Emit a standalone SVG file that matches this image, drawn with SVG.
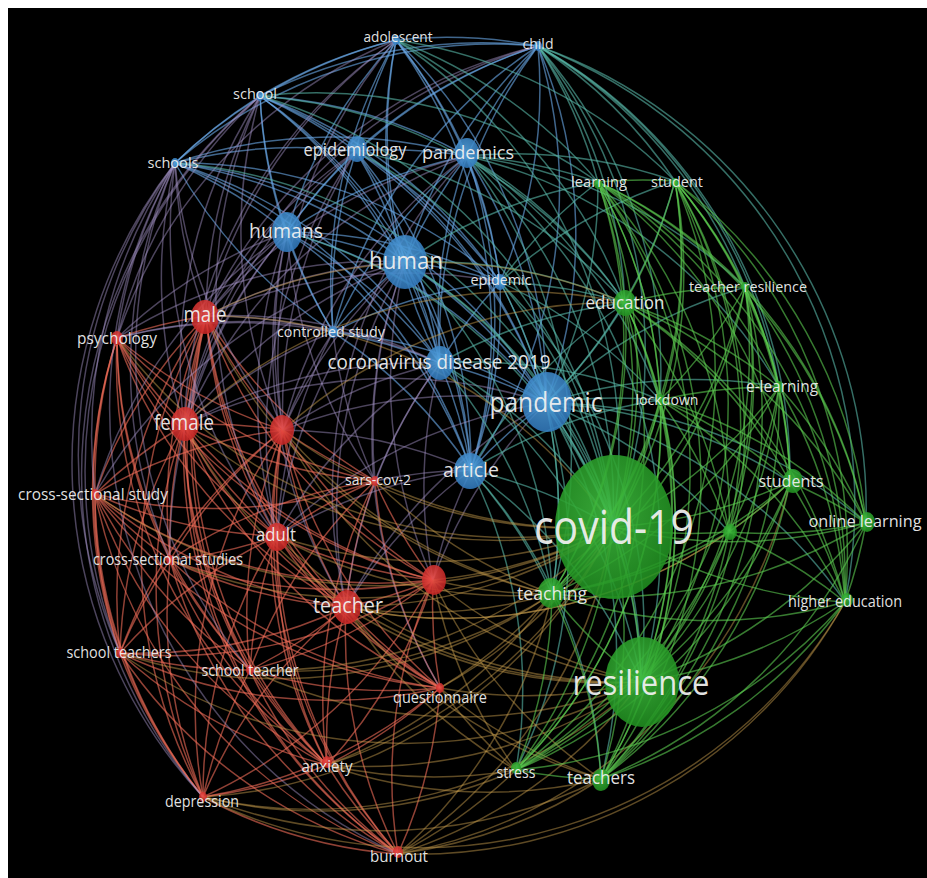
<svg xmlns="http://www.w3.org/2000/svg" width="927" height="878" viewBox="0 0 927 878">
<defs>
<radialGradient id="gR" cx="0.45" cy="0.4" r="0.65"><stop offset="0" stop-color="#ec4c46"/><stop offset="1" stop-color="#bf2020"/></radialGradient>
<radialGradient id="gB" cx="0.45" cy="0.4" r="0.65"><stop offset="0" stop-color="#52a2de"/><stop offset="1" stop-color="#2f76ba"/></radialGradient>
<radialGradient id="gG" cx="0.45" cy="0.4" r="0.65"><stop offset="0" stop-color="#40be40"/><stop offset="1" stop-color="#1e8c1e"/></radialGradient>
<style>
#edges path{fill:none;stroke-width:1.5;stroke-opacity:0.6}
.eb{stroke:#6aaaea}.er{stroke:#f06c58}.eg{stroke:#5ccc50}.et{stroke:#58b8a8}
#edges .ep path{stroke:#a896cc;stroke-opacity:0.45}
#edges .ey path{stroke:#c49a4c;stroke-opacity:0.48}
.nr{fill:url(#gR)}.nb{fill:url(#gB)}.ng{fill:url(#gG)}
ellipse{fill-opacity:0.88}
text{font-family:"Open Sans","Noto Sans","DejaVu Sans",sans-serif;fill:#f0f0f0;fill-opacity:0.95;text-anchor:middle}
</style>
</defs>
<rect x="0" y="0" width="927" height="878" fill="#ffffff"/>
<rect x="8" y="8" width="919" height="870" fill="#000000"/>
<g id="edges">
<g class="er">
<path d="M117 338A490 490 0 0 1 206 316"/><path d="M184 425A490 490 0 0 1 117 338"/><path d="M95 494A490 490 0 0 1 117 338"/><path d="M170 560A490 490 0 0 1 117 338"/><path d="M277 536A490 490 0 0 1 117 338"/><path d="M283 430A490 490 0 0 1 117 338"/><path d="M120 653A490 490 0 0 1 117 338"/><path d="M250 670A490 490 0 0 1 117 338"/><path d="M346 607A490 490 0 0 1 117 338"/><path d="M375 481A490 490 0 0 1 117 338"/><path d="M433 580A490 490 0 0 1 117 338"/><path d="M203 797A490 490 0 0 1 117 338"/><path d="M327 765A490 490 0 0 1 117 338"/>
<path d="M184 425A490 490 0 0 1 206 316"/><path d="M283 430A490 490 0 0 1 206 316"/><path d="M95 494A490 490 0 0 1 206 316"/><path d="M277 536A490 490 0 0 1 206 316"/><path d="M170 560A490 490 0 0 1 206 316"/><path d="M375 481A490 490 0 0 1 206 316"/><path d="M433 580A490 490 0 0 1 206 316"/><path d="M346 607A490 490 0 0 1 206 316"/><path d="M120 653A490 490 0 0 1 206 316"/><path d="M250 670A490 490 0 0 1 206 316"/><path d="M440 688A490 490 0 0 1 206 316"/><path d="M327 765A490 490 0 0 1 206 316"/><path d="M203 797A490 490 0 0 1 206 316"/><path d="M398 854A490 490 0 0 1 206 316"/>
<path d="M184 425A490 490 0 0 1 283 430"/><path d="M95 494A490 490 0 0 1 184 425"/><path d="M277 536A490 490 0 0 1 184 425"/><path d="M170 560A490 490 0 0 1 184 425"/><path d="M375 481A490 490 0 0 1 184 425"/><path d="M433 580A490 490 0 0 1 184 425"/><path d="M346 607A490 490 0 0 1 184 425"/><path d="M120 653A490 490 0 0 1 184 425"/><path d="M250 670A490 490 0 0 1 184 425"/><path d="M440 688A490 490 0 0 1 184 425"/><path d="M327 765A490 490 0 0 1 184 425"/><path d="M203 797A490 490 0 0 1 184 425"/><path d="M398 854A490 490 0 0 1 184 425"/>
<path d="M95 494A490 490 0 0 1 283 430"/><path d="M375 481A490 490 0 0 1 283 430"/><path d="M277 536A490 490 0 0 1 283 430"/><path d="M170 560A490 490 0 0 1 283 430"/><path d="M433 580A490 490 0 0 1 283 430"/><path d="M346 607A490 490 0 0 1 283 430"/><path d="M120 653A490 490 0 0 1 283 430"/><path d="M250 670A490 490 0 0 1 283 430"/><path d="M440 688A490 490 0 0 1 283 430"/><path d="M327 765A490 490 0 0 1 283 430"/><path d="M203 797A490 490 0 0 1 283 430"/><path d="M398 854A490 490 0 0 1 283 430"/>
<path d="M277 536A490 490 0 0 1 95 494"/><path d="M170 560A490 490 0 0 1 95 494"/><path d="M346 607A490 490 0 0 1 95 494"/><path d="M120 653A490 490 0 0 1 95 494"/><path d="M250 670A490 490 0 0 1 95 494"/><path d="M327 765A490 490 0 0 1 95 494"/><path d="M203 797A490 490 0 0 1 95 494"/><path d="M433 580A490 490 0 0 1 95 494"/><path d="M398 854A490 490 0 0 1 95 494"/><path d="M440 688A490 490 0 0 1 95 494"/><path d="M375 481A490 490 0 0 1 95 494"/>
<path d="M277 536A490 490 0 0 1 375 481"/><path d="M433 580A490 490 0 0 1 375 481"/><path d="M346 607A490 490 0 0 1 375 481"/><path d="M250 670A490 490 0 0 1 375 481"/><path d="M440 688A490 490 0 0 1 375 481"/><path d="M327 765A490 490 0 0 1 375 481"/><path d="M170 560A490 490 0 0 1 375 481"/>
<path d="M277 536A490 490 0 0 1 170 560"/><path d="M433 580A490 490 0 0 1 277 536"/><path d="M346 607A490 490 0 0 1 277 536"/><path d="M120 653A490 490 0 0 1 277 536"/><path d="M250 670A490 490 0 0 1 277 536"/><path d="M440 688A490 490 0 0 1 277 536"/><path d="M327 765A490 490 0 0 1 277 536"/><path d="M203 797A490 490 0 0 1 277 536"/><path d="M398 854A490 490 0 0 1 277 536"/>
<path d="M346 607A490 490 0 0 1 170 560"/><path d="M120 653A490 490 0 0 1 170 560"/><path d="M250 670A490 490 0 0 1 170 560"/><path d="M327 765A490 490 0 0 1 170 560"/><path d="M203 797A490 490 0 0 1 170 560"/><path d="M398 854A490 490 0 0 1 170 560"/><path d="M440 688A490 490 0 0 1 170 560"/><path d="M433 580A490 490 0 0 1 170 560"/>
<path d="M440 688A490 490 0 0 1 433 580"/><path d="M398 854A490 490 0 0 1 433 580"/><path d="M433 580A490 490 0 0 1 346 607"/><path d="M433 580A490 490 0 0 1 250 670"/><path d="M433 580A490 490 0 0 1 120 653"/><path d="M433 580A490 490 0 0 1 327 765"/><path d="M433 580A490 490 0 0 1 203 797"/>
<path d="M440 688A490 490 0 0 1 346 607"/><path d="M327 765A490 490 0 0 1 346 607"/><path d="M203 797A490 490 0 0 1 346 607"/><path d="M398 854A490 490 0 0 1 346 607"/><path d="M346 607A490 490 0 0 1 120 653"/><path d="M346 607A490 490 0 0 1 250 670"/>
<path d="M250 670A490 490 0 0 1 120 653"/><path d="M327 765A490 490 0 0 1 120 653"/><path d="M203 797A490 490 0 0 1 120 653"/><path d="M398 854A490 490 0 0 1 120 653"/><path d="M440 688A490 490 0 0 1 120 653"/>
<path d="M440 688A490 490 0 0 1 250 670"/><path d="M327 765A490 490 0 0 1 250 670"/><path d="M203 797A490 490 0 0 1 250 670"/><path d="M398 854A490 490 0 0 1 250 670"/>
<path d="M440 688A490 490 0 0 1 327 765"/><path d="M440 688A490 490 0 0 1 203 797"/><path d="M440 688A490 490 0 0 1 398 854"/><path d="M398 854A490 490 0 0 1 327 765"/><path d="M327 765A490 490 0 0 1 203 797"/><path d="M398 854A490 490 0 0 1 203 797"/>
</g>
<g class="eb">
<path d="M260 96A490 490 0 0 1 396 40"/><path d="M175 163A490 490 0 0 1 396 40"/><path d="M356 151A490 490 0 0 1 396 40"/><path d="M287 232A490 490 0 0 1 396 40"/><path d="M405 262A490 490 0 0 1 396 40"/><path d="M440 363A490 490 0 0 1 396 40"/><path d="M333 332A490 490 0 0 1 396 40"/><path d="M396 40A490 490 0 0 1 467 156"/><path d="M396 40A490 490 0 0 1 538 46"/><path d="M396 40A490 490 0 0 1 500 282"/><path d="M396 40A490 490 0 0 1 546 403"/><path d="M396 40A490 490 0 0 1 471 470"/>
<path d="M260 96A490 490 0 0 1 538 46"/><path d="M175 163A490 490 0 0 1 538 46"/><path d="M356 151A490 490 0 0 1 538 46"/><path d="M467 156A490 490 0 0 1 538 46"/><path d="M287 232A490 490 0 0 1 538 46"/><path d="M405 262A490 490 0 0 1 538 46"/><path d="M440 363A490 490 0 0 1 538 46"/><path d="M538 46A490 490 0 0 1 500 282"/><path d="M538 46A490 490 0 0 1 546 403"/><path d="M333 332A490 490 0 0 1 538 46"/><path d="M538 46A490 490 0 0 1 471 470"/>
<path d="M175 163A490 490 0 0 1 260 96"/><path d="M260 96A490 490 0 0 1 356 151"/><path d="M260 96A490 490 0 0 1 467 156"/><path d="M260 96A490 490 0 0 1 405 262"/><path d="M260 96A490 490 0 0 1 440 363"/><path d="M287 232A490 490 0 0 1 260 96"/><path d="M333 332A490 490 0 0 1 260 96"/><path d="M260 96A490 490 0 0 1 546 403"/><path d="M260 96A490 490 0 0 1 500 282"/><path d="M260 96A490 490 0 0 1 471 470"/>
<path d="M175 163A490 490 0 0 1 356 151"/><path d="M175 163A490 490 0 0 1 467 156"/><path d="M175 163A490 490 0 0 1 287 232"/><path d="M175 163A490 490 0 0 1 405 262"/><path d="M175 163A490 490 0 0 1 440 363"/><path d="M175 163A490 490 0 0 1 546 403"/><path d="M175 163A490 490 0 0 1 500 282"/><path d="M333 332A490 490 0 0 1 175 163"/><path d="M175 163A490 490 0 0 1 471 470"/>
<path d="M356 151A490 490 0 0 1 405 262"/><path d="M356 151A490 490 0 0 1 467 156"/><path d="M356 151A490 490 0 0 1 440 363"/><path d="M356 151A490 490 0 0 1 546 403"/><path d="M287 232A490 490 0 0 1 356 151"/><path d="M333 332A490 490 0 0 1 356 151"/><path d="M356 151A490 490 0 0 1 500 282"/><path d="M356 151A490 490 0 0 1 471 470"/>
<path d="M405 262A490 490 0 0 1 467 156"/><path d="M287 232A490 490 0 0 1 467 156"/><path d="M440 363A490 490 0 0 1 467 156"/><path d="M467 156A490 490 0 0 1 500 282"/><path d="M467 156A490 490 0 0 1 546 403"/><path d="M333 332A490 490 0 0 1 467 156"/><path d="M467 156A490 490 0 0 1 471 470"/>
<path d="M287 232A490 490 0 0 1 405 262"/><path d="M287 232A490 490 0 0 1 440 363"/><path d="M287 232A490 490 0 0 1 546 403"/><path d="M287 232A490 490 0 0 1 500 282"/><path d="M333 332A490 490 0 0 1 287 232"/><path d="M287 232A490 490 0 0 1 471 470"/>
<path d="M405 262A490 490 0 0 1 440 363"/><path d="M405 262A490 490 0 0 1 546 403"/><path d="M405 262A490 490 0 0 1 500 282"/><path d="M333 332A490 490 0 0 1 405 262"/><path d="M405 262A490 490 0 0 1 471 470"/>
<path d="M500 282A490 490 0 0 1 546 403"/><path d="M440 363A490 490 0 0 1 500 282"/><path d="M333 332A490 490 0 0 1 500 282"/><path d="M500 282A490 490 0 0 1 471 470"/>
<path d="M333 332A490 490 0 0 1 440 363"/><path d="M333 332A490 490 0 0 1 546 403"/><path d="M333 332A490 490 0 0 1 471 470"/><path d="M440 363A490 490 0 0 1 546 403"/><path d="M440 363A490 490 0 0 1 471 470"/><path d="M471 470A490 490 0 0 1 546 403"/>
</g>
<g class="ep">
<path d="M206 316A490 490 0 0 1 396 40"/><path d="M184 425A490 490 0 0 1 396 40"/><path d="M117 338A490 490 0 0 1 396 40"/><path d="M283 430A490 490 0 0 1 396 40"/><path d="M206 316A490 490 0 0 1 538 46"/><path d="M184 425A490 490 0 0 1 538 46"/>
<path d="M206 316A490 490 0 0 1 260 96"/><path d="M117 338A490 490 0 0 1 260 96"/><path d="M184 425A490 490 0 0 1 260 96"/><path d="M283 430A490 490 0 0 1 260 96"/><path d="M277 536A490 490 0 0 1 260 96"/><path d="M120 653A490 490 0 0 1 260 96"/><path d="M203 797A490 490 0 0 1 260 96"/>
<path d="M206 316A490 490 0 0 1 175 163"/><path d="M117 338A490 490 0 0 1 175 163"/><path d="M184 425A490 490 0 0 1 175 163"/><path d="M95 494A490 490 0 0 1 175 163"/><path d="M283 430A490 490 0 0 1 175 163"/><path d="M277 536A490 490 0 0 1 175 163"/><path d="M170 560A490 490 0 0 1 175 163"/><path d="M120 653A490 490 0 0 1 175 163"/><path d="M203 797A490 490 0 0 1 175 163"/><path d="M398 854A490 490 0 0 1 175 163"/><path d="M250 670A490 490 0 0 1 175 163"/>
<path d="M206 316A490 490 0 0 1 356 151"/><path d="M184 425A490 490 0 0 1 356 151"/><path d="M283 430A490 490 0 0 1 356 151"/><path d="M277 536A490 490 0 0 1 356 151"/>
<path d="M206 316A490 490 0 0 1 467 156"/><path d="M184 425A490 490 0 0 1 467 156"/><path d="M283 430A490 490 0 0 1 467 156"/><path d="M346 607A490 490 0 0 1 467 156"/>
<path d="M206 316A490 490 0 0 1 287 232"/><path d="M184 425A490 490 0 0 1 287 232"/><path d="M117 338A490 490 0 0 1 287 232"/><path d="M283 430A490 490 0 0 1 287 232"/><path d="M277 536A490 490 0 0 1 287 232"/><path d="M95 494A490 490 0 0 1 287 232"/><path d="M170 560A490 490 0 0 1 287 232"/><path d="M346 607A490 490 0 0 1 287 232"/><path d="M375 481A490 490 0 0 1 287 232"/>
<path d="M206 316A490 490 0 0 1 405 262"/><path d="M184 425A490 490 0 0 1 405 262"/><path d="M283 430A490 490 0 0 1 405 262"/><path d="M117 338A490 490 0 0 1 405 262"/><path d="M277 536A490 490 0 0 1 405 262"/><path d="M375 481A490 490 0 0 1 405 262"/><path d="M346 607A490 490 0 0 1 405 262"/><path d="M433 580A490 490 0 0 1 405 262"/><path d="M95 494A490 490 0 0 1 405 262"/><path d="M440 688A490 490 0 0 1 405 262"/>
<path d="M206 316A490 490 0 0 1 500 282"/><path d="M206 316A490 490 0 0 1 333 332"/><path d="M184 425A490 490 0 0 1 333 332"/><path d="M283 430A490 490 0 0 1 333 332"/><path d="M277 536A490 490 0 0 1 333 332"/><path d="M117 338A490 490 0 0 1 333 332"/><path d="M375 481A490 490 0 0 1 333 332"/>
<path d="M283 430A490 490 0 0 1 440 363"/><path d="M184 425A490 490 0 0 1 440 363"/><path d="M206 316A490 490 0 0 1 440 363"/><path d="M277 536A490 490 0 0 1 440 363"/><path d="M375 481A490 490 0 0 1 440 363"/><path d="M346 607A490 490 0 0 1 440 363"/><path d="M433 580A490 490 0 0 1 440 363"/><path d="M117 338A490 490 0 0 1 440 363"/>
<path d="M283 430A490 490 0 0 1 546 403"/><path d="M277 536A490 490 0 0 1 546 403"/><path d="M346 607A490 490 0 0 1 546 403"/><path d="M433 580A490 490 0 0 1 546 403"/><path d="M184 425A490 490 0 0 1 546 403"/>
<path d="M283 430A490 490 0 0 1 471 470"/><path d="M375 481A490 490 0 0 1 471 470"/><path d="M277 536A490 490 0 0 1 471 470"/><path d="M433 580A490 490 0 0 1 471 470"/><path d="M346 607A490 490 0 0 1 471 470"/>
</g>
<g class="et">
<path d="M396 40A490 490 0 0 1 598 182"/><path d="M396 40A490 490 0 0 1 613 527"/><path d="M396 40A490 490 0 0 1 625 303"/><path d="M396 40A490 490 0 0 1 675 181"/>
<path d="M538 46A490 490 0 0 1 598 182"/><path d="M538 46A490 490 0 0 1 675 181"/><path d="M538 46A490 490 0 0 1 625 303"/><path d="M538 46A490 490 0 0 1 613 527"/><path d="M538 46A490 490 0 0 1 660 400"/><path d="M538 46A490 490 0 0 1 779 387"/><path d="M538 46A490 490 0 0 1 745 287"/><path d="M538 46A490 490 0 0 1 866 523"/><path d="M538 46A490 490 0 0 1 845 602"/><path d="M538 46A490 490 0 0 1 790 482"/>
<path d="M260 96A490 490 0 0 1 613 527"/><path d="M260 96A490 490 0 0 1 625 303"/><path d="M260 96A490 490 0 0 1 598 182"/><path d="M175 163A490 490 0 0 1 613 527"/><path d="M356 151A490 490 0 0 1 613 527"/><path d="M356 151A490 490 0 0 1 625 303"/>
<path d="M467 156A490 490 0 0 1 625 303"/><path d="M467 156A490 490 0 0 1 613 527"/><path d="M467 156A490 490 0 0 1 598 182"/><path d="M467 156A490 490 0 0 1 675 181"/><path d="M467 156A490 490 0 0 1 660 400"/><path d="M467 156A490 490 0 0 1 641 682"/><path d="M467 156A490 490 0 0 1 552 594"/><path d="M467 156A490 490 0 0 1 745 287"/><path d="M467 156A490 490 0 0 1 779 387"/>
<path d="M287 232A490 490 0 0 1 613 527"/><path d="M405 262A490 490 0 0 1 613 527"/><path d="M405 262A490 490 0 0 1 625 303"/><path d="M405 262A490 490 0 0 1 598 182"/><path d="M405 262A490 490 0 0 1 641 682"/><path d="M405 262A490 490 0 0 1 552 594"/>
<path d="M500 282A490 490 0 0 1 625 303"/><path d="M500 282A490 490 0 0 1 613 527"/><path d="M500 282A490 490 0 0 1 660 400"/><path d="M500 282A490 490 0 0 1 598 182"/><path d="M500 282A490 490 0 0 1 675 181"/><path d="M500 282A490 490 0 0 1 552 594"/><path d="M500 282A490 490 0 0 1 641 682"/>
<path d="M440 363A490 490 0 0 1 613 527"/><path d="M440 363A490 490 0 0 1 625 303"/><path d="M440 363A490 490 0 0 1 660 400"/><path d="M440 363A490 490 0 0 1 552 594"/><path d="M440 363A490 490 0 0 1 641 682"/>
<path d="M546 403A490 490 0 0 1 613 527"/><path d="M546 403A490 490 0 0 1 641 682"/><path d="M546 403A490 490 0 0 1 552 594"/><path d="M546 403A490 490 0 0 1 660 400"/><path d="M625 303A490 490 0 0 1 546 403"/><path d="M598 182A490 490 0 0 1 546 403"/><path d="M675 181A490 490 0 0 1 546 403"/><path d="M546 403A490 490 0 0 1 745 287"/><path d="M546 403A490 490 0 0 1 779 387"/><path d="M546 403A490 490 0 0 1 790 482"/><path d="M546 403A490 490 0 0 1 601 779"/><path d="M546 403A490 490 0 0 1 516 770"/><path d="M546 403A490 490 0 0 1 729 532"/><path d="M546 403A490 490 0 0 1 866 523"/><path d="M546 403A490 490 0 0 1 845 602"/>
<path d="M471 470A490 490 0 0 1 613 527"/><path d="M471 470A490 490 0 0 1 641 682"/><path d="M471 470A490 490 0 0 1 552 594"/><path d="M471 470A490 490 0 0 1 625 303"/><path d="M471 470A490 490 0 0 1 601 779"/><path d="M471 470A490 490 0 0 1 516 770"/><path d="M471 470A490 490 0 0 1 660 400"/>
</g>
<g class="ey">
<path d="M206 316A490 490 0 0 1 613 527"/><path d="M552 594A490 490 0 0 1 206 316"/><path d="M613 527A490 490 0 0 1 184 425"/><path d="M641 682A490 490 0 0 1 184 425"/><path d="M613 527A490 490 0 0 1 283 430"/><path d="M552 594A490 490 0 0 1 283 430"/><path d="M641 682A490 490 0 0 1 283 430"/><path d="M613 527A490 490 0 0 1 375 481"/><path d="M552 594A490 490 0 0 1 375 481"/>
<path d="M613 527A490 490 0 0 1 277 536"/><path d="M552 594A490 490 0 0 1 277 536"/><path d="M641 682A490 490 0 0 1 277 536"/><path d="M613 527A490 490 0 0 1 433 580"/><path d="M641 682A490 490 0 0 1 433 580"/><path d="M552 594A490 490 0 0 1 433 580"/><path d="M516 770A490 490 0 0 1 433 580"/><path d="M601 779A490 490 0 0 1 433 580"/>
<path d="M613 527A490 490 0 0 1 346 607"/><path d="M641 682A490 490 0 0 1 346 607"/><path d="M552 594A490 490 0 0 1 346 607"/><path d="M601 779A490 490 0 0 1 346 607"/><path d="M516 770A490 490 0 0 1 346 607"/><path d="M552 594A490 490 0 0 1 120 653"/><path d="M641 682A490 490 0 0 1 120 653"/>
<path d="M613 527A490 490 0 0 1 250 670"/><path d="M641 682A490 490 0 0 1 250 670"/><path d="M552 594A490 490 0 0 1 250 670"/><path d="M613 527A490 490 0 0 1 440 688"/><path d="M641 682A490 490 0 0 1 440 688"/><path d="M552 594A490 490 0 0 1 440 688"/><path d="M601 779A490 490 0 0 1 440 688"/><path d="M516 770A490 490 0 0 1 440 688"/>
<path d="M613 527A490 490 0 0 1 327 765"/><path d="M641 682A490 490 0 0 1 327 765"/><path d="M516 770A490 490 0 0 1 327 765"/><path d="M601 779A490 490 0 0 1 327 765"/><path d="M552 594A490 490 0 0 1 327 765"/>
<path d="M641 682A490 490 0 0 1 203 797"/><path d="M601 779A490 490 0 0 1 203 797"/><path d="M516 770A490 490 0 0 1 203 797"/><path d="M613 527A490 490 0 0 1 203 797"/><path d="M845 602A490 490 0 0 1 203 797"/>
<path d="M601 779A490 490 0 0 1 398 854"/><path d="M516 770A490 490 0 0 1 398 854"/><path d="M641 682A490 490 0 0 1 398 854"/><path d="M613 527A490 490 0 0 1 398 854"/><path d="M552 594A490 490 0 0 1 398 854"/><path d="M845 602A490 490 0 0 1 398 854"/><path d="M790 482A490 490 0 0 1 398 854"/>
<path d="M613 527A490 490 0 0 1 95 494"/><path d="M613 527A490 490 0 0 1 170 560"/><path d="M613 527A490 490 0 0 1 117 338"/><path d="M206 316A490 490 0 0 1 625 303"/><path d="M184 425A490 490 0 0 1 625 303"/><path d="M283 430A490 490 0 0 1 625 303"/><path d="M790 482A490 490 0 0 1 346 607"/><path d="M729 532A490 490 0 0 1 346 607"/>
</g>
<g class="eg">
<path d="M613 527A490 490 0 0 1 641 682"/><path d="M613 527A490 490 0 0 1 552 594"/><path d="M613 527A490 490 0 0 1 601 779"/><path d="M613 527A490 490 0 0 1 516 770"/><path d="M625 303A490 490 0 0 1 613 527"/><path d="M598 182A490 490 0 0 1 613 527"/><path d="M675 181A490 490 0 0 1 613 527"/><path d="M745 287A490 490 0 0 1 613 527"/><path d="M660 400A490 490 0 0 1 613 527"/><path d="M779 387A490 490 0 0 1 613 527"/><path d="M790 482A490 490 0 0 1 613 527"/><path d="M866 523A490 490 0 0 1 613 527"/><path d="M729 532A490 490 0 0 1 613 527"/><path d="M845 602A490 490 0 0 1 613 527"/>
<path d="M641 682A490 490 0 0 1 552 594"/><path d="M641 682A490 490 0 0 1 601 779"/><path d="M641 682A490 490 0 0 1 516 770"/><path d="M625 303A490 490 0 0 1 641 682"/><path d="M598 182A490 490 0 0 1 641 682"/><path d="M675 181A490 490 0 0 1 641 682"/><path d="M745 287A490 490 0 0 1 641 682"/><path d="M660 400A490 490 0 0 1 641 682"/><path d="M779 387A490 490 0 0 1 641 682"/><path d="M790 482A490 490 0 0 1 641 682"/><path d="M729 532A490 490 0 0 1 641 682"/><path d="M866 523A490 490 0 0 1 641 682"/><path d="M845 602A490 490 0 0 1 641 682"/>
<path d="M552 594A490 490 0 0 1 601 779"/><path d="M552 594A490 490 0 0 1 516 770"/><path d="M625 303A490 490 0 0 1 552 594"/><path d="M598 182A490 490 0 0 1 552 594"/><path d="M675 181A490 490 0 0 1 552 594"/><path d="M745 287A490 490 0 0 1 552 594"/><path d="M660 400A490 490 0 0 1 552 594"/><path d="M779 387A490 490 0 0 1 552 594"/><path d="M790 482A490 490 0 0 1 552 594"/><path d="M729 532A490 490 0 0 1 552 594"/><path d="M845 602A490 490 0 0 1 552 594"/><path d="M866 523A490 490 0 0 1 552 594"/>
<path d="M601 779A490 490 0 0 1 516 770"/><path d="M625 303A490 490 0 0 1 601 779"/><path d="M745 287A490 490 0 0 1 601 779"/><path d="M779 387A490 490 0 0 1 601 779"/><path d="M790 482A490 490 0 0 1 601 779"/><path d="M729 532A490 490 0 0 1 601 779"/><path d="M866 523A490 490 0 0 1 601 779"/><path d="M845 602A490 490 0 0 1 601 779"/><path d="M660 400A490 490 0 0 1 601 779"/><path d="M675 181A490 490 0 0 1 601 779"/><path d="M598 182A490 490 0 0 1 601 779"/>
<path d="M625 303A490 490 0 0 1 516 770"/><path d="M745 287A490 490 0 0 1 516 770"/><path d="M660 400A490 490 0 0 1 516 770"/><path d="M790 482A490 490 0 0 1 516 770"/><path d="M845 602A490 490 0 0 1 516 770"/><path d="M729 532A490 490 0 0 1 516 770"/><path d="M675 181A490 490 0 0 1 516 770"/><path d="M598 182A490 490 0 0 1 516 770"/>
<path d="M598 182A490 490 0 0 1 625 303"/><path d="M675 181A490 490 0 0 1 625 303"/><path d="M625 303A490 490 0 0 1 745 287"/><path d="M625 303A490 490 0 0 1 660 400"/><path d="M625 303A490 490 0 0 1 779 387"/><path d="M625 303A490 490 0 0 1 790 482"/><path d="M625 303A490 490 0 0 1 729 532"/><path d="M625 303A490 490 0 0 1 866 523"/><path d="M625 303A490 490 0 0 1 845 602"/>
<path d="M598 182A490 490 0 0 1 675 181"/><path d="M598 182A490 490 0 0 1 745 287"/><path d="M598 182A490 490 0 0 1 660 400"/><path d="M598 182A490 490 0 0 1 779 387"/><path d="M598 182A490 490 0 0 1 790 482"/><path d="M598 182A490 490 0 0 1 729 532"/><path d="M598 182A490 490 0 0 1 866 523"/><path d="M598 182A490 490 0 0 1 845 602"/>
<path d="M675 181A490 490 0 0 1 745 287"/><path d="M675 181A490 490 0 0 1 660 400"/><path d="M675 181A490 490 0 0 1 779 387"/><path d="M675 181A490 490 0 0 1 790 482"/><path d="M675 181A490 490 0 0 1 729 532"/><path d="M675 181A490 490 0 0 1 866 523"/><path d="M675 181A490 490 0 0 1 845 602"/>
<path d="M745 287A490 490 0 0 1 660 400"/><path d="M745 287A490 490 0 0 1 779 387"/><path d="M745 287A490 490 0 0 1 790 482"/><path d="M745 287A490 490 0 0 1 729 532"/><path d="M745 287A490 490 0 0 1 866 523"/><path d="M745 287A490 490 0 0 1 845 602"/>
<path d="M660 400A490 490 0 0 1 779 387"/><path d="M660 400A490 490 0 0 1 790 482"/><path d="M660 400A490 490 0 0 1 729 532"/><path d="M660 400A490 490 0 0 1 866 523"/><path d="M660 400A490 490 0 0 1 845 602"/>
<path d="M779 387A490 490 0 0 1 790 482"/><path d="M779 387A490 490 0 0 1 729 532"/><path d="M779 387A490 490 0 0 1 866 523"/><path d="M779 387A490 490 0 0 1 845 602"/>
<path d="M790 482A490 490 0 0 1 866 523"/><path d="M790 482A490 490 0 0 1 729 532"/><path d="M790 482A490 490 0 0 1 845 602"/><path d="M866 523A490 490 0 0 1 729 532"/><path d="M729 532A490 490 0 0 1 845 602"/><path d="M866 523A490 490 0 0 1 845 602"/>
</g>
</g>
<g id="n-adolescent"><ellipse class="nb" cx="396" cy="40" rx="4" ry="5"/><text x="398" y="42" font-size="15" textLength="69" lengthAdjust="spacingAndGlyphs">adolescent</text></g>
<g id="n-child"><ellipse class="nb" cx="538" cy="46" rx="4" ry="5"/><text x="538" y="49" font-size="15" textLength="31" lengthAdjust="spacingAndGlyphs">child</text></g>
<g id="n-school"><ellipse class="nb" cx="260" cy="96" rx="4" ry="5"/><text x="255" y="99" font-size="15" textLength="44" lengthAdjust="spacingAndGlyphs">school</text></g>
<g id="n-schools"><ellipse class="nb" cx="175" cy="163" rx="4" ry="5"/><text x="173" y="168" font-size="15" textLength="51" lengthAdjust="spacingAndGlyphs">schools</text></g>
<g id="n-epidemiology"><ellipse class="nb" cx="357" cy="149" rx="10" ry="13"/><text x="355" y="156" font-size="18" textLength="103" lengthAdjust="spacingAndGlyphs">epidemiology</text></g>
<g id="n-pandemics"><ellipse class="nb" cx="467" cy="153" rx="12" ry="15"/><text x="468" y="159" font-size="19" textLength="92" lengthAdjust="spacingAndGlyphs">pandemics</text></g>
<g id="n-humans"><ellipse class="nb" cx="287" cy="232" rx="15" ry="20"/><text x="286" y="238" font-size="20" textLength="74" lengthAdjust="spacingAndGlyphs">humans</text></g>
<g id="n-human"><ellipse class="nb" cx="405" cy="262" rx="22" ry="27"/><text x="406" y="269" font-size="24" textLength="74" lengthAdjust="spacingAndGlyphs">human</text></g>
<g id="n-epidemic"><ellipse class="nb" cx="500" cy="282" rx="6" ry="8"/><text x="501" y="285" font-size="15" textLength="61" lengthAdjust="spacingAndGlyphs">epidemic</text></g>
<g id="n-controlled-study"><ellipse class="nb" cx="333" cy="332" rx="5" ry="6"/><text x="331" y="337" font-size="15" textLength="108" lengthAdjust="spacingAndGlyphs">controlled study</text></g>
<g id="n-coronavirus-disease-2019"><ellipse class="nb" cx="440" cy="363" rx="14" ry="17"/><text x="439" y="369" font-size="20" textLength="223" lengthAdjust="spacingAndGlyphs">coronavirus disease 2019</text></g>
<g id="n-pandemic"><ellipse class="nb" cx="547" cy="402" rx="25" ry="30"/><text x="546" y="412" font-size="27" textLength="113" lengthAdjust="spacingAndGlyphs">pandemic</text></g>
<g id="n-article"><ellipse class="nb" cx="470" cy="471" rx="16" ry="18"/><text x="471" y="477" font-size="20" textLength="56" lengthAdjust="spacingAndGlyphs">article</text></g>
<g id="n-psychology"><ellipse class="nr" cx="117" cy="338" rx="6" ry="7"/><text x="117" y="344" font-size="16" textLength="80" lengthAdjust="spacingAndGlyphs">psychology</text></g>
<g id="n-male"><ellipse class="nr" cx="205" cy="317" rx="14" ry="17"/><text x="205" y="322" font-size="21" textLength="43" lengthAdjust="spacingAndGlyphs">male</text></g>
<g id="n-female"><ellipse class="nr" cx="185" cy="424" rx="14" ry="17"/><text x="184" y="430" font-size="21" textLength="60" lengthAdjust="spacingAndGlyphs">female</text></g>
<g id="n-red-unlabeled-1"><ellipse class="nr" cx="282" cy="430" rx="12" ry="15"/></g>
<g id="n-cross-sectional-study"><ellipse class="nr" cx="95" cy="494" rx="4" ry="5"/><text x="93" y="500" font-size="17" textLength="150" lengthAdjust="spacingAndGlyphs">cross-sectional study</text></g>
<g id="n-sars-cov-2"><ellipse class="nr" cx="375" cy="481" rx="4" ry="5"/><text x="378" y="485" font-size="15" textLength="66" lengthAdjust="spacingAndGlyphs">sars-cov-2</text></g>
<g id="n-adult"><ellipse class="nr" cx="277" cy="537" rx="12" ry="14"/><text x="276" y="541" font-size="19" textLength="40" lengthAdjust="spacingAndGlyphs">adult</text></g>
<g id="n-cross-sectional-studies"><ellipse class="nr" cx="170" cy="560" rx="4" ry="5"/><text x="168" y="565" font-size="16" textLength="150" lengthAdjust="spacingAndGlyphs">cross-sectional studies</text></g>
<g id="n-red-unlabeled-2"><ellipse class="nr" cx="434" cy="580" rx="12" ry="15"/></g>
<g id="n-teacher"><ellipse class="nr" cx="347" cy="607" rx="14" ry="17"/><text x="348" y="613" font-size="21" textLength="70" lengthAdjust="spacingAndGlyphs">teacher</text></g>
<g id="n-school-teachers"><ellipse class="nr" cx="120" cy="653" rx="4" ry="5"/><text x="119" y="658" font-size="16" textLength="105" lengthAdjust="spacingAndGlyphs">school teachers</text></g>
<g id="n-school-teacher"><ellipse class="nr" cx="250" cy="670" rx="4" ry="5"/><text x="250" y="676" font-size="16" textLength="97" lengthAdjust="spacingAndGlyphs">school teacher</text></g>
<g id="n-questionnaire"><ellipse class="nr" cx="440" cy="688" rx="4" ry="5"/><text x="440" y="703" font-size="16" textLength="94" lengthAdjust="spacingAndGlyphs">questionnaire</text></g>
<g id="n-anxiety"><ellipse class="nr" cx="327" cy="762" rx="5" ry="6"/><text x="327" y="772" font-size="16" textLength="51" lengthAdjust="spacingAndGlyphs">anxiety</text></g>
<g id="n-depression"><ellipse class="nr" cx="203" cy="797" rx="4" ry="5"/><text x="202" y="807" font-size="16" textLength="74" lengthAdjust="spacingAndGlyphs">depression</text></g>
<g id="n-burnout"><ellipse class="nr" cx="398" cy="852" rx="5" ry="6"/><text x="399" y="862" font-size="17" textLength="58" lengthAdjust="spacingAndGlyphs">burnout</text></g>
<g id="n-covid-19"><ellipse class="ng" cx="614" cy="527" rx="59" ry="72"/><text x="614" y="544" font-size="48" textLength="160" lengthAdjust="spacingAndGlyphs">covid-19</text></g>
<g id="n-resilience"><ellipse class="ng" cx="642" cy="682" rx="37" ry="45"/><text x="641" y="695" font-size="34" textLength="137" lengthAdjust="spacingAndGlyphs">resilience</text></g>
<g id="n-teaching"><ellipse class="ng" cx="551" cy="593" rx="13" ry="15"/><text x="552" y="600" font-size="19" textLength="70" lengthAdjust="spacingAndGlyphs">teaching</text></g>
<g id="n-teachers"><ellipse class="ng" cx="601" cy="780" rx="9" ry="11"/><text x="601" y="784" font-size="18" textLength="68" lengthAdjust="spacingAndGlyphs">teachers</text></g>
<g id="n-stress"><ellipse class="ng" cx="516" cy="768" rx="5" ry="6"/><text x="516" y="778" font-size="16" textLength="39" lengthAdjust="spacingAndGlyphs">stress</text></g>
<g id="n-education"><ellipse class="ng" cx="625" cy="303" rx="11" ry="13"/><text x="625" y="309" font-size="18" textLength="79" lengthAdjust="spacingAndGlyphs">education</text></g>
<g id="n-learning"><ellipse class="ng" cx="598" cy="184" rx="4" ry="5"/><text x="599" y="187" font-size="15" textLength="56" lengthAdjust="spacingAndGlyphs">learning</text></g>
<g id="n-student"><ellipse class="ng" cx="675" cy="183" rx="4" ry="5"/><text x="677" y="187" font-size="15" textLength="52" lengthAdjust="spacingAndGlyphs">student</text></g>
<g id="n-teacher-resilience"><ellipse class="ng" cx="745" cy="287" rx="4" ry="5"/><text x="748" y="292" font-size="15" textLength="118" lengthAdjust="spacingAndGlyphs">teacher resilience</text></g>
<g id="n-lockdown"><ellipse class="ng" cx="660" cy="400" rx="5" ry="6"/><text x="667" y="405" font-size="15" textLength="63" lengthAdjust="spacingAndGlyphs">lockdown</text></g>
<g id="n-e-learning"><ellipse class="ng" cx="779" cy="387" rx="5" ry="6"/><text x="782" y="392" font-size="17" textLength="72" lengthAdjust="spacingAndGlyphs">e-learning</text></g>
<g id="n-students"><ellipse class="ng" cx="793" cy="481" rx="10" ry="12"/><text x="791" y="487" font-size="17" textLength="65" lengthAdjust="spacingAndGlyphs">students</text></g>
<g id="n-green-unlabeled"><ellipse class="ng" cx="730" cy="532" rx="7" ry="8"/></g>
<g id="n-online-learning"><ellipse class="ng" cx="867" cy="522" rx="8" ry="10"/><text x="865" y="527" font-size="17" textLength="113" lengthAdjust="spacingAndGlyphs">online learning</text></g>
<g id="n-higher-education"><ellipse class="ng" cx="847" cy="600" rx="6" ry="7"/><text x="845" y="607" font-size="16" textLength="114" lengthAdjust="spacingAndGlyphs">higher education</text></g>
</svg>
